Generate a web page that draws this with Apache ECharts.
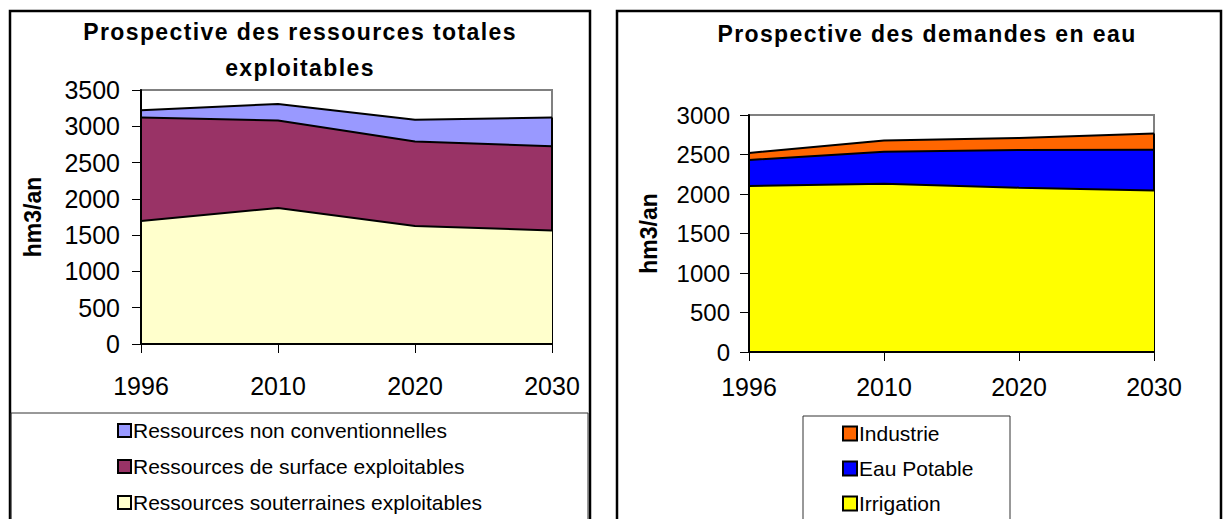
<!DOCTYPE html>
<html><head><meta charset="utf-8">
<script src="https://cdn.jsdelivr.net/npm/echarts@6/dist/echarts.min.js"></script>
<style>html,body{margin:0;padding:0;background:#fff}#c{width:1223px;height:519px}</style>
</head><body><div id="c"></div>
<script>
// ---- data ----
const years = ['1996', '2010', '2020', '2030'];
// left chart: Prospective des ressources totales exploitables (hm3/an)
const souterraines = [1695, 1875, 1625, 1565];
const surface = [1427, 1205, 1165, 1161];
const nonConventionnelles = [98, 228, 299, 396];
const leftTicks = [0, 500, 1000, 1500, 2000, 2500, 3000, 3500];
// right chart: Prospective des demandes en eau (hm3/an)
const irrigation = [2100, 2130, 2080, 2045];
const eauPotable = [330, 405, 477, 515];
const industrie = [90, 143, 153, 207];
const rightTicks = [0, 500, 1000, 1500, 2000, 2500, 3000];

const FONT = "Arial, 'Liberation Sans', sans-serif";
const chart = echarts.init(document.getElementById('c'), null, {renderer: 'svg'});

function area(name, data, color, idx, stack, z, edge) {
  const s = {
    type: 'line', name, data, xAxisIndex: idx, yAxisIndex: idx, stack,
    symbol: 'none', showSymbol: false, z,
    lineStyle: {color: '#000', width: 2},
    itemStyle: {color},
    areaStyle: {color, opacity: 1},
    emphasis: {disabled: true}, silent: true
  };
  if (edge) {
    // outline of the stacked area's right edge (last category, from 0 to the stack total)
    const last = years.length - 1;
    const total = edge.reduce((a, arr) => a + arr[last], 0);
    s.markLine = {silent: true, symbol: 'none', label: {show: false},
      lineStyle: {color: '#000', width: 2, type: 'solid'},
      data: [[{coord: [years[last], 0]}, {coord: [years[last], total]}]]};
  }
  return s;
}
function xAxis(gridIndex, margin) {
  return {
    type: 'category', gridIndex, data: years, boundaryGap: false, z: 10,
    axisLine: {lineStyle: {color: '#000', width: 2}},
    axisTick: {show: true, length: 9, lineStyle: {color: '#000', width: 1}},
    axisLabel: {color: '#000', fontSize: 25, fontFamily: FONT, margin},
    splitLine: {show: false}
  };
}
function yAxis(gridIndex, ticks, nameGap, margin, fontSize) {
  return {
    type: 'value', gridIndex, min: ticks[0], max: ticks[ticks.length - 1],
    interval: ticks[1] - ticks[0], z: 10,
    name: 'hm3/an', nameLocation: 'middle', nameGap, nameRotate: 90,
    nameTextStyle: {color: '#000', fontSize: 23, fontWeight: 'bold', fontFamily: FONT},
    axisLine: {show: true, lineStyle: {color: '#000', width: 2}},
    axisTick: {show: true, length: 9, lineStyle: {color: '#000', width: 1}},
    axisLabel: {color: '#000', fontSize, fontFamily: FONT, margin, formatter: v => String(v)},
    splitLine: {show: false}
  };
}

const legendItemStyle = {borderColor: '#000', borderWidth: 2};
chart.setOption({
  animation: false,
  backgroundColor: '#fff',
  title: [
    {text: 'Prospective des ressources totales\nexploitables', left: 300, top: 14, textAlign: 'center', padding: 0,
     textStyle: {fontSize: 23, fontWeight: 'bold', fontFamily: FONT, color: '#000', lineHeight: 36}},
    {text: 'Prospective des demandes en eau', left: 927, top: 16, textAlign: 'center', padding: 0,
     textStyle: {fontSize: 23, fontWeight: 'bold', fontFamily: FONT, color: '#000', lineHeight: 36}}
  ],
  grid: [
    {left: 141, right: 1223 - 552, top: 90, bottom: 519 - 344, show: true, borderColor: '#808080', borderWidth: 2, backgroundColor: '#fff'},
    {left: 749, right: 1223 - 1154, top: 115, bottom: 519 - 352, show: true, borderColor: '#808080', borderWidth: 2, backgroundColor: '#fff'}
  ],
  xAxis: [xAxis(0, 29), xAxis(1, 22)],
  yAxis: [yAxis(0, leftTicks, 97, 21, 25), yAxis(1, rightTicks, 89, 19, 24)],
  legend: [
    {orient: 'vertical', left: 117, top: 420, padding: 0, itemGap: 15, itemWidth: 13, itemHeight: 13, icon: 'rect',
     selectedMode: false,
     data: ['Ressources non conventionnelles', 'Ressources de surface exploitables', 'Ressources souterraines exploitables'],
     itemStyle: legendItemStyle,
     textStyle: {fontSize: 21, fontFamily: FONT, color: '#000', lineHeight: 20, padding: [0, 0, 0, -3]}},
    {orient: 'vertical', left: 842, top: 423, padding: 0, itemGap: 14, itemWidth: 14, itemHeight: 14, icon: 'rect',
     selectedMode: false,
     data: ['Industrie', 'Eau Potable', 'Irrigation'],
     itemStyle: legendItemStyle,
     textStyle: {fontSize: 21, fontFamily: FONT, color: '#000', lineHeight: 20, padding: [0, 0, 0, -3]}}
  ],
  graphic: [
    {type: 'rect', shape: {x: 10, y: 11, width: 580, height: 600}, style: {fill: 'none', stroke: '#000', lineWidth: 2.5}, z: 100, silent: true},
    {type: 'rect', shape: {x: 617, y: 11, width: 604, height: 600}, style: {fill: 'none', stroke: '#000', lineWidth: 2.5}, z: 100, silent: true},
    {type: 'rect', shape: {x: 11, y: 413, width: 577, height: 300}, style: {fill: 'none', stroke: '#333', lineWidth: 1}, z: 100, silent: true},
    {type: 'rect', shape: {x: 803, y: 416, width: 207, height: 300}, style: {fill: 'none', stroke: '#333', lineWidth: 1}, z: 100, silent: true}
  ],
  series: [
    area('Ressources souterraines exploitables', souterraines, '#FFFFCC', 0, 'L', 5, [souterraines, surface, nonConventionnelles]),
    area('Ressources de surface exploitables', surface, '#993366', 0, 'L', 4),
    area('Ressources non conventionnelles', nonConventionnelles, '#9999FF', 0, 'L', 3),
    area('Irrigation', irrigation, '#FFFF00', 1, 'R', 5, [irrigation, eauPotable, industrie]),
    area('Eau Potable', eauPotable, '#0000FF', 1, 'R', 4),
    area('Industrie', industrie, '#FF6600', 1, 'R', 3)
  ]
});

function spaceTitles() {
  document.querySelectorAll('#c svg text').forEach(t => {
    const s = t.textContent;
    if (s.indexOf('Prospective') === 0 || s === 'exploitables') t.setAttribute('letter-spacing', '1.4px');
  });
}
spaceTitles();
chart.on('finished', spaceTitles);
setTimeout(spaceTitles, 50);
</script></body></html>
